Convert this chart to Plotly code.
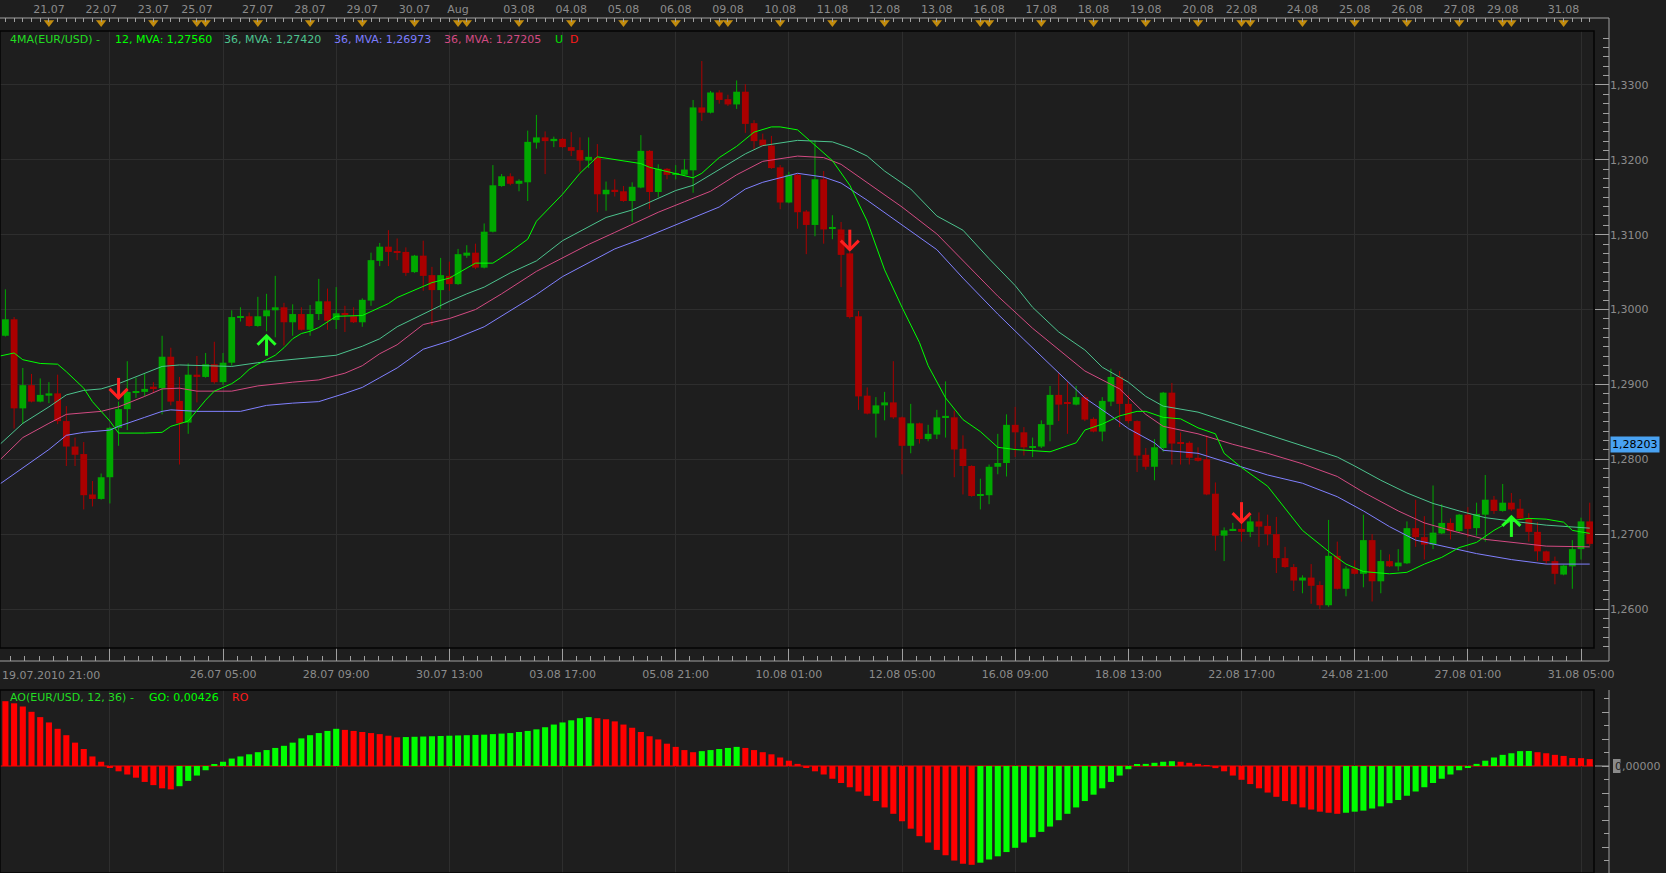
import plotly.graph_objects as go

W, H = 1666, 873
BG = "#1e1e1e"
GRID = "#2e2e2e"
TXT = "#8c8c8c"
AXL = "#a0a0a0"
FONT = "DejaVu Sans"
UPC = "#00a800"
DNC = "#aa0000"

# ---------------- data ----------------
opens = [1.2937,1.2965,1.2987,1.2868,1.2899,1.2877,1.2885,1.2888,1.2851,1.2817,
         1.2807,1.2753,1.2747,1.2776,1.2842,1.2867,1.2889,1.2890,1.2897,1.2895,
         1.2937,1.2878,1.2849,1.2913,1.2910,1.2927,1.2903,1.2929,1.2989,1.2991,
         1.2978,1.2991,1.2999,1.3003,1.2983,1.2994,1.2973,1.2994,1.3011,1.2986,
         1.2995,1.2991,1.2983,1.3012,1.3065,1.3084,1.3078,1.3077,1.3050,1.3072,
         1.3046,1.3026,1.3045,1.3034,1.3072,1.3076,1.3056,1.3104,1.3165,1.3178,
         1.3168,1.3170,1.3223,1.3230,1.3225,1.3228,1.3217,1.3213,1.3199,1.3203,
         1.3154,1.3160,1.3158,1.3145,1.3163,1.3212,1.3157,1.3188,1.3180,1.3180,
         1.3186,1.3270,1.3263,1.3290,1.3281,1.3274,1.3291,1.3249,1.3227,1.3219,
         1.3190,1.3143,1.3180,1.3131,1.3113,1.3174,1.3108,1.3107,1.3075,1.2991,
         1.2885,1.2861,1.2872,1.2876,1.2856,1.2818,1.2848,1.2827,1.2833,1.2856,
         1.2856,1.2814,1.2791,1.2751,1.2752,1.2790,1.2795,1.2846,1.2836,1.2816,
         1.2817,1.2846,1.2886,1.2876,1.2873,1.2883,1.2854,1.2837,1.2877,1.2910,
         1.2874,1.2851,1.2806,1.2790,1.2815,1.2889,1.2822,1.2822,1.2802,1.2800,
         1.2754,1.2698,1.2705,1.2707,1.2703,1.2717,1.2711,1.2700,1.2668,1.2656,
         1.2638,1.2642,1.2632,1.2605,1.2671,1.2627,1.2654,1.2647,1.2692,1.2637,
         1.2664,1.2657,1.2661,1.2708,1.2696,1.2686,1.2701,1.2715,1.2704,1.2726,
         1.2708,1.2726,1.2746,1.2731,1.2742,1.2734,1.2721,1.2703,1.2677,1.2664,
         1.2646,1.2657,1.2680,1.2717]
highs = [1.2970,1.3027,1.2990,1.2922,1.2914,1.2908,1.2903,1.2913,1.2871,1.2829,
         1.2823,1.2771,1.2781,1.2843,1.2877,1.2931,1.2909,1.2914,1.2903,1.2965,
         1.2949,1.2910,1.2928,1.2938,1.2942,1.2957,1.2942,1.2999,1.3003,1.2996,
         1.3017,1.3021,1.3045,1.3009,1.3007,1.3003,1.3006,1.3041,1.3028,1.3030,
         1.3005,1.3003,1.3015,1.3076,1.3089,1.3106,1.3095,1.3083,1.3073,1.3092,
         1.3057,1.3069,1.3064,1.3081,1.3086,1.3088,1.3115,1.3193,1.3181,1.3182,
         1.3174,1.3239,1.3260,1.3238,1.3231,1.3229,1.3237,1.3230,1.3230,1.3221,
         1.3171,1.3174,1.3165,1.3170,1.3233,1.3213,1.3194,1.3189,1.3193,1.3201,
         1.3280,1.3332,1.3292,1.3293,1.3287,1.3306,1.3301,1.3253,1.3235,1.3232,
         1.3193,1.3184,1.3181,1.3133,1.3226,1.3185,1.3126,1.3117,1.3077,1.2998,
         1.2896,1.2883,1.2890,1.2931,1.2857,1.2874,1.2849,1.2846,1.2866,1.2904,
         1.2865,1.2832,1.2792,1.2774,1.2793,1.2834,1.2860,1.2870,1.2843,1.2829,
         1.2852,1.2898,1.2915,1.2903,1.2898,1.2886,1.2856,1.2883,1.2921,1.2918,
         1.2886,1.2852,1.2815,1.2827,1.2890,1.2902,1.2836,1.2824,1.2816,1.2832,
         1.2769,1.2709,1.2715,1.2719,1.2724,1.2729,1.2726,1.2723,1.2683,1.2660,
         1.2645,1.2660,1.2637,1.2719,1.2690,1.2657,1.2665,1.2726,1.2700,1.2679,
         1.2673,1.2680,1.2717,1.2746,1.2724,1.2765,1.2740,1.2721,1.2727,1.2736,
         1.2742,1.2779,1.2751,1.2767,1.2755,1.2747,1.2728,1.2716,1.2678,1.2670,
         1.2659,1.2692,1.2722,1.2742]
lows = [1.2934,1.2964,1.2841,1.2847,1.2876,1.2876,1.2875,1.2847,1.2791,1.2791,
        1.2733,1.2737,1.2746,1.2741,1.2818,1.2839,1.2882,1.2884,1.2889,1.2860,
        1.2872,1.2793,1.2834,1.2876,1.2909,1.2901,1.2899,1.2925,1.2984,1.2977,
        1.2977,1.2971,1.2963,1.2952,1.2965,1.2972,1.2965,1.2986,1.2973,1.2974,
        1.2970,1.2982,1.2977,1.3005,1.3058,1.3058,1.3066,1.3045,1.3049,1.3025,
        1.2979,1.3001,1.3025,1.3033,1.3069,1.3054,1.3055,1.3103,1.3164,1.3166,
        1.3158,1.3145,1.3215,1.3181,1.3217,1.3216,1.3205,1.3184,1.3189,1.3130,
        1.3132,1.3151,1.3144,1.3117,1.3162,1.3134,1.3150,1.3174,1.3174,1.3179,
        1.3156,1.3252,1.3262,1.3275,1.3272,1.3268,1.3236,1.3214,1.3218,1.3188,
        1.3134,1.3142,1.3108,1.3074,1.3098,1.3088,1.3094,1.3030,1.2988,1.2866,
        1.2860,1.2829,1.2852,1.2854,1.2780,1.2808,1.2821,1.2824,1.2827,1.2829,
        1.2776,1.2753,1.2750,1.2733,1.2740,1.2780,1.2777,1.2803,1.2805,1.2803,
        1.2815,1.2824,1.2851,1.2834,1.2872,1.2851,1.2836,1.2824,1.2871,1.2843,
        1.2848,1.2783,1.2786,1.2772,1.2810,1.2793,1.2793,1.2793,1.2797,1.2752,
        1.2678,1.2664,1.2704,1.2690,1.2696,1.2683,1.2685,1.2648,1.2655,1.2624,
        1.2621,1.2607,1.2600,1.2603,1.2626,1.2617,1.2646,1.2629,1.2610,1.2621,
        1.2656,1.2651,1.2660,1.2683,1.2666,1.2680,1.2700,1.2693,1.2703,1.2696,
        1.2698,1.2690,1.2727,1.2730,1.2731,1.2720,1.2690,1.2664,1.2660,1.2633,
        1.2645,1.2627,1.2666,1.2684]
closes = [1.2965,1.2987,1.2868,1.2899,1.2877,1.2886,1.2888,1.2851,1.2817,1.2806,
          1.2752,1.2747,1.2776,1.2842,1.2867,1.2890,1.2891,1.2894,1.2895,1.2937,
          1.2877,1.2848,1.2913,1.2910,1.2927,1.2903,1.2929,1.2990,1.2991,1.2978,
          1.2991,1.2999,1.3003,1.2983,1.2994,1.2973,1.2994,1.3011,1.2985,1.2995,
          1.2993,1.2983,1.3013,1.3066,1.3084,1.3077,1.3076,1.3049,1.3072,1.3045,
          1.3026,1.3046,1.3034,1.3074,1.3076,1.3056,1.3104,1.3166,1.3178,1.3168,
          1.3172,1.3224,1.3230,1.3225,1.3228,1.3217,1.3212,1.3199,1.3204,1.3154,
          1.3160,1.3157,1.3145,1.3164,1.3212,1.3157,1.3188,1.3180,1.3182,1.3187,
          1.3270,1.3263,1.3290,1.3280,1.3274,1.3291,1.3248,1.3225,1.3219,1.3189,
          1.3143,1.3180,1.3130,1.3113,1.3174,1.3107,1.3110,1.3073,1.2990,1.2884,
          1.2861,1.2872,1.2876,1.2856,1.2818,1.2848,1.2827,1.2834,1.2856,1.2858,
          1.2813,1.2791,1.2751,1.2753,1.2790,1.2795,1.2846,1.2836,1.2816,1.2817,
          1.2847,1.2886,1.2873,1.2875,1.2883,1.2853,1.2837,1.2878,1.2910,1.2874,
          1.2851,1.2805,1.2790,1.2816,1.2889,1.2821,1.2821,1.2802,1.2798,1.2753,
          1.2698,1.2705,1.2707,1.2703,1.2717,1.2710,1.2700,1.2668,1.2656,1.2638,
          1.2642,1.2631,1.2605,1.2671,1.2627,1.2654,1.2647,1.2692,1.2637,1.2664,
          1.2657,1.2662,1.2708,1.2696,1.2686,1.2702,1.2715,1.2704,1.2726,1.2707,
          1.2727,1.2746,1.2731,1.2742,1.2733,1.2721,1.2703,1.2677,1.2664,1.2647,
          1.2658,1.2680,1.2717,1.2687]

# moving averages: (candle index, value)
ma12 = [(0,1.2937),(2,1.2942),(3,1.2933),(5,1.2928),(7,1.2927),(8,1.2917),(10,1.2895),
        (11,1.2877),(13,1.2851),(14,1.2835),(17,1.2835),(19,1.2836),(20,1.2844),(22,1.2851),
        (23,1.2865),(24,1.2879),(25,1.2891),(27,1.2901),(28,1.2909),(29,1.2920),(30,1.2927),
        (32,1.2939),(33,1.2949),(34,1.2961),(35,1.2968),(36,1.2971),(37,1.2976),(38,1.2983),
        (39,1.2991),(42,1.2992),(43,1.2997),(45,1.3008),(46,1.3016),(50,1.3036),(52,1.3042),
        (55,1.3062),(57,1.3062),(59,1.3077),(61,1.3094),(62,1.3118),(65,1.3154),(67,1.3182),
        (69,1.3204),(72,1.3199),(74,1.3195),(75,1.3190),(78,1.3181),(80,1.3176),(81,1.3182),
        (83,1.3203),(85,1.3218),(87,1.3237),(89,1.3244),(90,1.3244),(92,1.3240),(94,1.3220),
        (96,1.3199),(98,1.3166),(100,1.3118),(102,1.3053),(104,1.3003),(106,1.2956),(107,1.2925),
        (109,1.2882),(111,1.2853),(113,1.2837),(115,1.2816),(117,1.2813),(119,1.2812),(121,1.2810),
        (124,1.2822),(125,1.2839),(127,1.2847),(129,1.2858),(131,1.2864),(132,1.2864),(134,1.2856),
        (136,1.2854),(138,1.2842),(140,1.2834),(141,1.2808),(143,1.2789),(146,1.2764),(148,1.2734),
        (150,1.2705),(153,1.2677),(155,1.2660),(157,1.2650),(160,1.2647),(162,1.2649),(164,1.2660),
        (166,1.2669),(168,1.2682),(170,1.2689),(172,1.2705),(174,1.2718),(176,1.2721),(178,1.2720),
        (180,1.2716),(181,1.2705),(183,1.2701)]
ma36_teal = [(0,1.2816),(3,1.2848),(6,1.2870),(8,1.2886),(10,1.2892),(12,1.2894),(14,1.2901),
        (17,1.2915),(19,1.2924),(21,1.2926),(23,1.2925),(27,1.2924),(30,1.2929),(34,1.2933),
        (39,1.2939),(42,1.2951),(44,1.2961),(46,1.2977),(49,1.2994),(52,1.3011),(54,1.3021),
        (56,1.3030),(59,1.3049),(62,1.3065),(65,1.3092),(68,1.3111),(70,1.3123),(73,1.3133),
        (76,1.3149),(78,1.3159),(80,1.3166),(83,1.3187),(86,1.3208),(88,1.3219),(92,1.3226),
        (96,1.3224),(98,1.3216),(100,1.3205),(102,1.3185),(105,1.3161),(108,1.3125),(111,1.3106),
        (114,1.3068),(117,1.3032),(119,1.3003),(122,1.2970),(125,1.2946),(127,1.2923),(130,1.2903),
        (132,1.2884),(134,1.2871),(138,1.2863),(142,1.2848),(146,1.2833),(150,1.2818),(154,1.2803),
        (156,1.2791),(159,1.2772),(162,1.2755),(165,1.2741),(168,1.2731),(171,1.2722),(175,1.2716),
        (178,1.2712),(183,1.2708)]
ma36_pink = [(0,1.2795),(3,1.2829),(6,1.2848),(8,1.2860),(12,1.2864),(14,1.2870),(17,1.2884),
        (19,1.2894),(21,1.2895),(23,1.2891),(27,1.2891),(30,1.2898),(34,1.2903),(37,1.2906),
        (40,1.2915),(42,1.2925),(44,1.2941),(46,1.2953),(49,1.2980),(52,1.2988),(55,1.3000),
        (58,1.3021),(62,1.3051),(65,1.3069),(68,1.3087),(71,1.3103),(74,1.3119),(76,1.3130),
        (79,1.3144),(82,1.3158),(85,1.3180),(88,1.3198),(92,1.3205),(95,1.3203),(97,1.3194),
        (100,1.3170),(104,1.3137),(108,1.3101),(112,1.3053),(115,1.3018),(119,1.2975),(122,1.2946),
        (125,1.2918),(129,1.2894),(132,1.2860),(134,1.2844),(138,1.2834),(142,1.2820),(146,1.2808),
        (150,1.2794),(154,1.2777),(157,1.2756),(161,1.2731),(164,1.2715),(167,1.2705),(171,1.2693),
        (175,1.2688),(178,1.2684),(183,1.2683)]
ma36_blue = [(0,1.2764),(3,1.2789),(6,1.2813),(8,1.2832),(10,1.2836),(13,1.2839),(14,1.2844),
        (17,1.2856),(19,1.2864),(20,1.2866),(23,1.2864),(28,1.2864),(31,1.2872),(34,1.2875),
        (37,1.2877),(40,1.2888),(42,1.2896),(44,1.2909),(46,1.2922),(49,1.2947),(52,1.2958),
        (56,1.2977),(59,1.2999),(62,1.3020),(65,1.3044),(68,1.3063),(71,1.3081),(74,1.3094),
        (77,1.3108),(80,1.3123),(83,1.3137),(86,1.3161),(88,1.3170),(92,1.3182),(95,1.3177),
        (97,1.3169),(100,1.3146),(104,1.3113),(108,1.3080),(111,1.3042),(115,1.2994),(118,1.2960),
        (122,1.2915),(125,1.2882),(128,1.2858),(130,1.2841),(133,1.2822),(134,1.2812),(138,1.2808),
        (142,1.2793),(146,1.2779),(150,1.2768),(154,1.2750),(157,1.2731),(160,1.2710),(163,1.2692),
        (167,1.2682),(170,1.2674),(174,1.2666),(178,1.2660),(183,1.2660)]

# AO histogram values (one per candle)
ao_values = [0.0123,0.0122,0.0118,0.0112,0.0102,0.0092,0.0082,0.0070,0.0058,0.0044,
             0.0032,0.0018,0.0008,-0.0002,-0.0010,-0.0016,-0.0022,-0.0030,-0.0036,-0.0042,
             -0.0044,-0.0038,-0.0028,-0.0018,-0.0008,0.0002,0.0008,0.0014,0.0018,0.0022,
             0.0026,0.0030,0.0034,0.0038,0.0044,0.0052,0.0058,0.0062,0.0066,0.0070,
             0.0068,0.0066,0.0064,0.0062,0.0060,0.0057,0.0054,0.00545,0.0055,0.00555,
             0.0056,0.00565,0.0057,0.00575,0.0058,0.00585,0.0059,0.0060,0.0061,0.0062,
             0.0064,0.0066,0.0069,0.0073,0.0078,0.0082,0.0086,0.0090,0.0092,0.0090,
             0.0088,0.0084,0.0078,0.0072,0.0064,0.0056,0.0050,0.0042,0.0036,0.0030,
             0.0026,0.0028,0.0030,0.0032,0.0034,0.0036,0.0034,0.0030,0.0026,0.0022,
             0.0016,0.0010,0.0004,-0.0002,-0.0010,-0.0016,-0.0024,-0.0032,-0.0040,-0.0048,
             -0.0056,-0.0066,-0.0078,-0.0090,-0.0104,-0.0118,-0.0132,-0.0144,-0.0158,-0.0168,
             -0.0178,-0.0184,-0.0186,-0.0182,-0.0176,-0.0170,-0.0162,-0.0154,-0.0144,-0.0134,
             -0.0124,-0.0114,-0.0102,-0.0090,-0.0078,-0.0066,-0.0054,-0.0042,-0.0030,-0.0018,
             -0.0006,0.0002,0.0004,0.0006,0.0008,0.0009,0.0008,0.0006,0.0004,0.0001,
             -0.0004,-0.0010,-0.0018,-0.0026,-0.0034,-0.0042,-0.0050,-0.0058,-0.0066,-0.0072,
             -0.0078,-0.0082,-0.0086,-0.0088,-0.0090,-0.0088,-0.0086,-0.0084,-0.0080,-0.0076,
             -0.0070,-0.0064,-0.0056,-0.0048,-0.0040,-0.0032,-0.0024,-0.0016,-0.0008,-0.0002,
             0.0004,0.0010,0.0016,0.0021,0.0024,0.0028,0.00282,0.0026,0.0024,0.0021,
             0.0019,0.0015,0.00148,0.0013]

# signal arrows: (candle index, tip price)
up_signals = [(31, 1.2965), (174, 1.2723)]
down_signals = [(14, 1.2882), (98, 1.3080), (143, 1.2716)]

# time axes
day_idx = [6,12,18,23,24,30,36,42,48,53,54,60,66,72,78,83,84,90,96,102,108,113,114,
           120,126,132,138,143,144,150,156,162,168,173,174,180]
day_lbl = ["21.07","22.07","23.07","25.07","","27.07","28.07","29.07","30.07","Aug","",
           "03.08","04.08","05.08","06.08","","09.08","10.08","11.08","12.08","13.08","",
           "16.08","17.08","18.08","19.08","20.08","22.08","","24.08","25.08","26.08",
           "27.08","29.08","","31.08"]
time_idx = [13,26,39,52,65,78,91,104,117,130,143,156,169,182]
time_lbl = ["","26.07 05:00","28.07 09:00","30.07 13:00","03.08 17:00","05.08 21:00",
            "10.08 01:00","12.08 05:00","16.08 09:00","18.08 13:00","22.08 17:00",
            "24.08 21:00","27.08 01:00","31.08 05:00"]
first_time_lbl = "19.07.2010 21:00"
last_price = 1.28203

# ---------------- layout helpers ----------------
def px(x):
    return x / W

def py(y):
    return 1 - y / H

n = len(opens)
idx = list(range(n))
up = [closes[i] >= opens[i] for i in idx]

X_RANGE = [0.38, 183.49]
P_RANGE = [1.25479, 1.33721]
AO_UNIT = 0.0002 / 1.0625
AO_RANGE = [-107 * AO_UNIT, 76 * AO_UNIT]
XD = px(1594)
AXP = px(1609)
DX = (X_RANGE[1] - X_RANGE[0]) / 1594.0      # data units per pixel (x)
DY = (P_RANGE[1] - P_RANGE[0]) / 617.0       # data units per pixel (price)

fig = go.Figure()

# wicks
for flag, col in ((True, UPC), (False, DNC)):
    xs, ys = [], []
    for i in idx:
        if up[i] == flag:
            xs += [i, i, None]
            ys += [lows[i], highs[i], None]
    fig.add_trace(go.Scatter(x=xs, y=ys, mode="lines", line=dict(color=col, width=1),
                             xaxis="x", yaxis="y", hoverinfo="skip"))
# bodies
for flag, col in ((True, UPC), (False, DNC)):
    sel = [i for i in idx if up[i] == flag]
    fig.add_trace(go.Bar(x=sel, base=[min(opens[i], closes[i]) for i in sel],
                         y=[max(abs(closes[i] - opens[i]), 0.00013) for i in sel],
                         width=0.78, marker=dict(color=col, line=dict(width=0)),
                         xaxis="x", yaxis="y", hoverinfo="skip"))

# moving averages
for series, col in ((ma36_blue, "#8080ff"), (ma36_pink, "#d24a82"),
                    (ma36_teal, "#4cc38e"), (ma12, "#00ff00")):
    fig.add_trace(go.Scatter(x=[p[0] for p in series], y=[p[1] for p in series],
                             mode="lines", line=dict(color=col, width=1),
                             xaxis="x", yaxis="y", hoverinfo="skip"))

# signal arrows (shaft + chevron head)
for sigs, sgn, col in ((up_signals, 1, "#22ff22"), (down_signals, -1, "#ff2020")):
    xs, ys = [], []
    for i, p in sigs:
        xs += [i, i, None, i - 9 * DX, i, i + 9 * DX, None]
        ys += [p - sgn * 20 * DY, p, None, p - sgn * 9 * DY, p, p - sgn * 9 * DY, None]
    fig.add_trace(go.Scatter(x=xs, y=ys, mode="lines", line=dict(color=col, width=3),
                             xaxis="x", yaxis="y", hoverinfo="skip"))

# AO histogram
ao_cols = []
for i, v in enumerate(ao_values):
    ao_cols.append("#ff0000" if (i == 0 or v < ao_values[i - 1]) else "#00ff00")
fig.add_trace(go.Bar(x=idx, y=ao_values, width=0.7, marker=dict(color=ao_cols, line=dict(width=0)),
                     xaxis="x2", yaxis="y2", hoverinfo="skip"))

# day triangles on top axis
fig.add_trace(go.Scatter(x=day_idx, y=[0.5] * len(day_idx), mode="markers",
                         marker=dict(symbol="triangle-down", size=9, color="#c28c0e",
                                     line=dict(width=0)),
                         xaxis="x3", yaxis="y5", cliponaxis=False, hoverinfo="skip"))
# dummy trace for bottom time axis
fig.add_trace(go.Scatter(x=[None], y=[None], xaxis="x4", yaxis="y6", hoverinfo="skip"))

tickfont = dict(family=FONT, size=11, color=TXT)
ao_major = [k * 27 * AO_UNIT for k in range(-3, 3)]

fig.update_layout(
    template="none",
    width=W, height=H, autosize=False,
    margin=dict(l=0, r=0, t=0, b=0, pad=0, autoexpand=False),
    paper_bgcolor=BG, plot_bgcolor=BG, showlegend=False, barmode="overlay",
    separators=", ", hovermode=False, font=dict(family=FONT, size=11, color=TXT),
    xaxis=dict(domain=[0, XD], anchor="y", range=X_RANGE, tickvals=time_idx, automargin=False,
               showticklabels=False, ticks="", showgrid=True, gridcolor=GRID, gridwidth=1,
               zeroline=False, showline=False, fixedrange=True),
    yaxis=dict(domain=[py(648), py(31)], anchor="free", position=AXP, side="right",
               range=P_RANGE, dtick=0.01, tick0=1.26, tickformat=".4f", automargin=False,
               ticks="inside", ticklen=14, tickcolor=AXL, tickwidth=1, tickfont=tickfont,
               showgrid=True, gridcolor=GRID, gridwidth=1, zeroline=False, showline=False,
               minor=dict(ticks="inside", ticklen=6, dtick=0.00125, tick0=1.26,
                          tickcolor=AXL, showgrid=False)),
    xaxis2=dict(domain=[0, XD], anchor="y2", range=X_RANGE, tickvals=time_idx, automargin=False,
                showticklabels=False, ticks="", showgrid=True, gridcolor=GRID, gridwidth=1,
                zeroline=False, showline=False),
    yaxis2=dict(domain=[0, py(690)], anchor="free", position=AXP, side="right", automargin=False,
                range=AO_RANGE, tickvals=ao_major, ticktext=[""] * len(ao_major),
                ticks="inside", ticklen=7, tickcolor=AXL, tickfont=tickfont,
                showgrid=False, zeroline=False, showline=False,
                minor=dict(ticks="inside", ticklen=5, dtick=13.5 * AO_UNIT, tick0=0,
                           tickcolor=AXL, showgrid=False)),
    xaxis3=dict(domain=[0, XD], anchor="y5", side="top", range=X_RANGE, automargin=False,
                tickvals=day_idx, ticktext=day_lbl, ticks="inside", ticklen=4,
                tickcolor=AXL, tickfont=tickfont, showgrid=False, zeroline=False,
                showline=False, ticklabelstandoff=2,
                minor=dict(ticks="inside", ticklen=4, dtick=1, tick0=0, tickcolor=AXL,
                           showgrid=False)),
    yaxis5=dict(domain=[py(27), py(18)], anchor="x3", range=[0, 1], visible=False,
                automargin=False),
    xaxis4=dict(domain=[0, XD], anchor="y6", side="bottom", range=X_RANGE, automargin=False,
                tickvals=time_idx, ticktext=time_lbl, ticks="inside", ticklen=13,
                tickcolor=AXL, tickfont=tickfont, showgrid=False, zeroline=False,
                showline=False, ticklabelstandoff=5,
                minor=dict(ticks="inside", ticklen=5, dtick=13 / 8, tick0=0,
                           tickcolor=AXL, showgrid=False)),
    yaxis6=dict(domain=[py(661), py(648)], anchor="x4", range=[0, 1], visible=False,
                automargin=False),
)

shapes = []
# axis lines
shapes.append(dict(type="line", xref="paper", yref="paper", x0=0, x1=AXP, y0=py(18), y1=py(18),
                   line=dict(color=AXL, width=1)))
shapes.append(dict(type="line", xref="paper", yref="paper", x0=AXP, x1=AXP, y0=py(18), y1=py(661),
                   line=dict(color=AXL, width=1)))
shapes.append(dict(type="line", xref="paper", yref="paper", x0=0, x1=AXP, y0=py(661), y1=py(661),
                   line=dict(color=AXL, width=1)))
shapes.append(dict(type="line", xref="paper", yref="paper", x0=AXP, x1=AXP, y0=py(690), y1=0,
                   line=dict(color=AXL, width=1)))
# AO zero line and long zero tick
shapes.append(dict(type="line", xref="paper", yref="y2", x0=0, x1=XD, y0=0, y1=0,
                   line=dict(color="#ff0000", width=1), layer="below"))
shapes.append(dict(type="line", xref="paper", yref="y2", x0=px(1595), x1=AXP, y0=0, y1=0,
                   line=dict(color=AXL, width=1)))
# panel borders
shapes.append(dict(type="rect", xref="paper", yref="paper", x0=0, x1=XD, y0=py(648), y1=py(31),
                   line=dict(color="#050505", width=1.5)))
shapes.append(dict(type="rect", xref="paper", yref="paper", x0=0, x1=XD, y0=0, y1=py(690),
                   line=dict(color="#050505", width=1.5)))
# zero label highlight
shapes.append(dict(type="rect", xref="paper", yref="y2", x0=px(1613), x1=px(1620.5),
                   y0=-7 * AO_UNIT, y1=7 * AO_UNIT, fillcolor="#8a8a8a", line=dict(width=0)))
fig.update_layout(shapes=shapes)

ann = []
def label(x, y, text, color, size=11, **kw):
    d = dict(xref="paper", yref="paper", x=px(x), y=py(y), text=text, showarrow=False,
             xanchor="left", yanchor="middle", font=dict(family=FONT, size=size, color=color))
    d.update(kw)
    ann.append(d)

label(8, 40, "4MA(EUR/USD) -", "#22dd22")
label(113, 40, "12, MVA: 1,27560", "#00ff00")
label(222, 40, "36, MVA: 1,27420", "#4cc38e")
label(332, 40, "36, MVA: 1,26973", "#7c7cff")
label(442, 40, "36, MVA: 1,27205", "#d24a82")
label(553, 40, "U", "#00e000")
label(568, 40, "D", "#ff1a1a")
label(8, 697, "AO(EUR/USD, 12, 36) -", "#22dd22")
label(147, 697, "GO: 0,00426", "#00ff00")
label(230, 697, "RO", "#ff1a1a")
label(0, 675, first_time_lbl, TXT)
label(1613, 766, "0", "#1e1e1e")
label(1620, 766, ",00000", TXT)

ann.append(dict(xref="paper", yref="y", x=px(1610), y=last_price, text=f"{last_price:.5f}".replace(".", ","),
                showarrow=False, xanchor="left", yanchor="middle", bgcolor="#49a2f2",
                borderpad=1, font=dict(family=FONT, size=11, color="#000000")))
fig.update_layout(annotations=ann)

fig.write_html("out.html", config={"responsive": False, "displayModeBar": False})
